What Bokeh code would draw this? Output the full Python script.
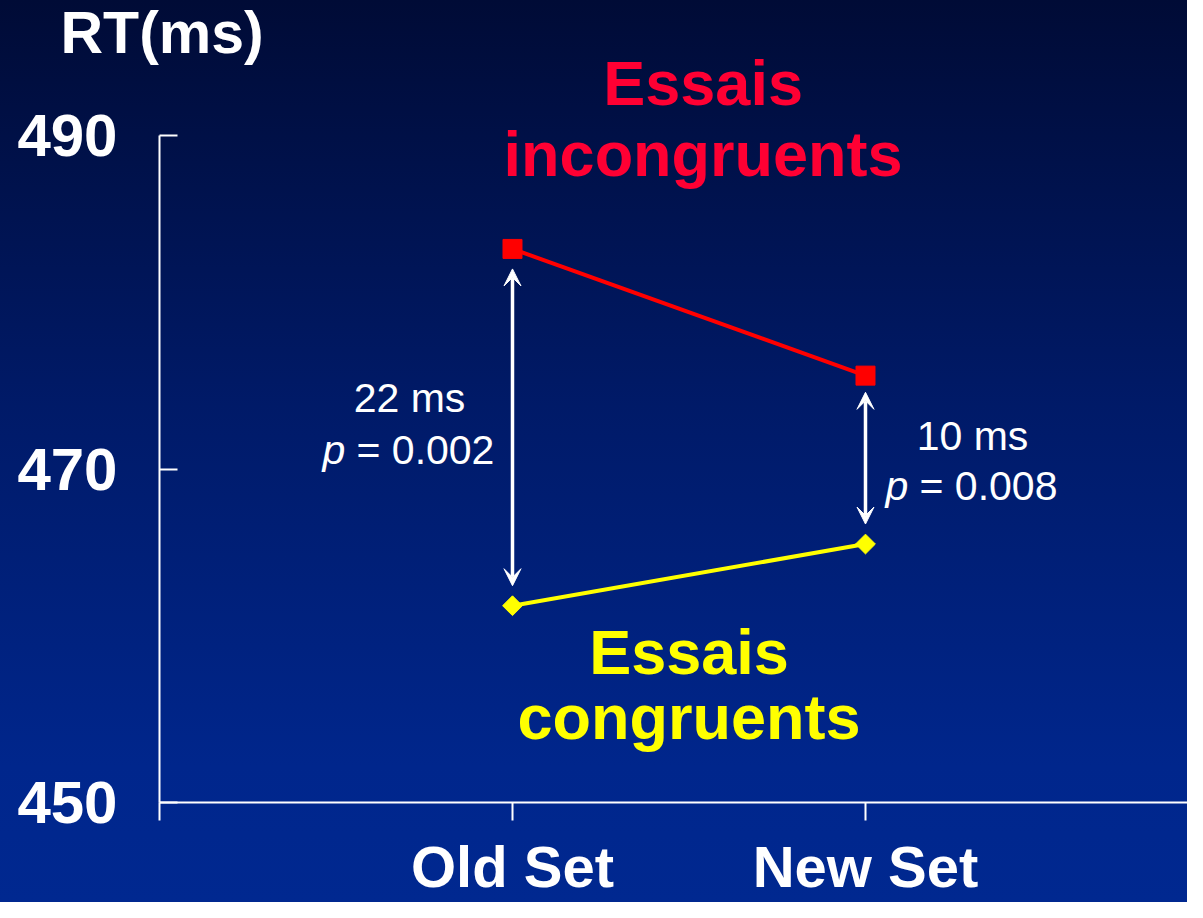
import math
from bokeh.plotting import figure
from bokeh.models import (Range1d, FixedTicker, Label, Arrow, VeeHead,
                          ColumnDataSource, LinearAxis)
from bokeh.core.properties import value
from bokeh.embed import file_html
from bokeh.resources import INLINE

# ---------------- data ----------------
categories = ["Old Set", "New Set"]
cat_x = [1, 2]
incongruent = [483.2, 475.6]
congruent = [461.8, 465.5]
y_ticks = [450, 470, 490]
x_ticks = [0, 1, 2]
x_tick_labels = {0: "", 1: categories[0], 2: categories[1]}

diff_text = ["22 ms", "10 ms"]
pval_text = ["= 0.002", "= 0.008"]
arrow_top = [482.0, 474.6]
arrow_bottom = [463.0, 466.7]

inc_title = ["Essais", "incongruents"]
con_title = ["Essais", "congruents"]

FONT = "Liberation Sans"

# ---------------- figure ----------------
# the plotting frame covers the whole canvas; axes are pinned at data locations
p = figure(width=1187, height=902,
           x_range=Range1d(-0.4504, 2.9122), y_range=Range1d(444.0, 498.1),
           output_backend="svg", toolbar_location=None,
           x_axis_location=None, y_axis_location=None,
           min_border_left=0, min_border_right=0,
           min_border_top=0, min_border_bottom=0)
p.background_fill_color = None
p.border_fill_color = None
p.outline_line_color = None
p.xgrid.visible = False
p.ygrid.visible = False
p.styles = {"background": "linear-gradient(to bottom, #000b36 0%, #001a68 45%, #00268c 85%, #002890 100%)"}

# axes
xaxis = LinearAxis(ticker=FixedTicker(ticks=x_ticks, minor_ticks=[]),
                   major_label_overrides=x_tick_labels,
                   fixed_location=y_ticks[0], bounds=(0, 3))
xaxis.axis_line_color = "white"
xaxis.axis_line_width = 2
xaxis.major_tick_line_color = "white"
xaxis.major_tick_line_width = 2
xaxis.major_tick_in = 0
xaxis.major_tick_out = 18
xaxis.minor_tick_line_color = None
xaxis.major_label_standoff = 14
xaxis.major_label_text_font = FONT
xaxis.major_label_text_font_size = "58px"
xaxis.major_label_text_font_style = "bold"
xaxis.major_label_text_color = "white"
p.add_layout(xaxis, "below")

yaxis = LinearAxis(ticker=FixedTicker(ticks=y_ticks, minor_ticks=[]),
                   fixed_location=0, bounds=(y_ticks[0], y_ticks[-1]))
yaxis.axis_line_color = "white"
yaxis.axis_line_width = 2
yaxis.major_tick_line_color = "white"
yaxis.major_tick_line_width = 2
yaxis.major_tick_in = 18
yaxis.major_tick_out = 0
yaxis.minor_tick_line_color = None
yaxis.major_label_standoff = 42
yaxis.major_label_text_font = FONT
yaxis.major_label_text_font_size = "60px"
yaxis.major_label_text_font_style = "bold"
yaxis.major_label_text_color = "white"
p.add_layout(yaxis, "left")

# series
p.line(cat_x, incongruent, line_color="#ff0000", line_width=4)
p.scatter(cat_x, incongruent, marker="square", size=19,
          fill_color="#ff0000", line_color="#ff0000")
p.line(cat_x, congruent, line_color="#ffff00", line_width=4)
p.scatter(cat_x, congruent, marker="square", angle=math.pi / 4, size=14,
          fill_color="#ffff00", line_color="#ffff00")

# double arrows
arr_src = ColumnDataSource(dict(x0=cat_x, y0=arrow_top, x1=cat_x, y1=arrow_bottom))
p.add_layout(Arrow(start=VeeHead(size=17, fill_color="white", line_color="white", line_width=1),
                   end=VeeHead(size=17, fill_color="white", line_color="white", line_width=1),
                   x_start="x0", y_start="y0", x_end="x1", y_end="y1",
                   source=arr_src, line_color="white", line_width=3.5))

# difference annotations
p.text(x=cat_x, y=[474.26, 471.96], text=diff_text, x_offset=[-103, 107],
       text_align="center", text_baseline="alphabetic",
       text_font=value(FONT), text_font_size="41px", text_color="white")
p.text(x=cat_x, y=[471.16, 468.96], text=["p", "p"], x_offset=[-190, 20],
       text_align="left", text_baseline="alphabetic", text_font_style="italic",
       text_font=value(FONT), text_font_size="41px", text_color="white")
p.text(x=cat_x, y=[471.16, 468.96], text=pval_text, x_offset=[-156, 54],
       text_align="left", text_baseline="alphabetic",
       text_font=value(FONT), text_font_size="41px", text_color="white")

# series titles
for txt, yy in zip(inc_title, [493.18, 488.92]):
    p.add_layout(Label(x=1.54, y=yy, text=txt, text_align="center",
                       text_baseline="alphabetic", text_font=FONT,
                       text_font_size="63px", text_font_style="bold",
                       text_color="#ff0033"))
for txt, yy in zip(con_title, [459.0, 455.1]):
    p.add_layout(Label(x=1.5, y=yy, text=txt, text_align="center",
                       text_baseline="alphabetic", text_font=FONT,
                       text_font_size="63px", text_font_style="bold",
                       text_color="#ffff00"))

# axis title
p.add_layout(Label(x=0, y=490, x_offset=-99, y_offset=103, text="RT(ms)",
                   text_align="left", text_baseline="alphabetic",
                   text_font=FONT, text_font_size="59px",
                   text_font_style="bold", text_color="white"))

open("out.html", "w").write(file_html(p, INLINE))
